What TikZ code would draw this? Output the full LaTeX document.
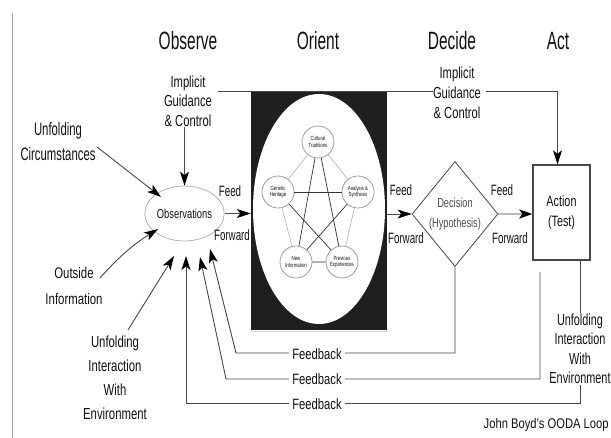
\documentclass[tikz,border=0pt]{standalone}
\usepackage{fontspec}
\usepackage{graphicx}
\setmainfont{Liberation Sans}
\usetikzlibrary{arrows.meta,shapes.geometric}
\def\sxf{0.7}
\newcommand\sx[1]{\scalebox{\sxf}[1]{#1}}
\definecolor{ln}{HTML}{484848}
\definecolor{tx}{HTML}{111111}
\tikzset{
  txt/.style n args={3}{font=\fontsize{#1}{#2}\selectfont\def\sxf{#3}, align=center, inner sep=0.5pt, text=tx},
  hdr/.style={txt={25}{30}{0.62}, anchor=base},
  arr/.style={-{Stealth[length=14pt,width=9pt,inset=3.5pt,black]}},
  conn/.style={draw=ln, line width=0.9pt},
  fbl/.style={txt={15}{18}{0.75}, fill=white, inner xsep=3pt},
  ff/.style={txt={15}{18}{0.65}},
  small/.style={circle, draw=gray!75, line width=0.8pt, fill=white, minimum size=32pt, inner sep=0pt, txt={6}{6.6}{0.72}},
  pent/.style={draw=gray!60, line width=0.6pt},
  star/.style={draw=black!80, line width=0.7pt},
}
\begin{document}
\begin{tikzpicture}[x=1pt,y=-1pt]
\useasboundingbox (0,0) rectangle (611,438);
% left border line
\draw[gray!70, line width=0.8pt] (12,13) -- (12,438);
% headers
\node[hdr] (hobs) at (188,50) {\sx{Observe}};
\node[hdr] (hori) at (318,50) {\sx{Orient}};
\node[hdr] (hdec) at (452,50) {\sx{Decide}};
\node[hdr] (hact) at (558,50) {\sx{Act}};
% orient box
\node[draw=none, fill=black!88, minimum width=136pt, minimum height=239pt, inner sep=0] (ori) at (319,210.5) {};
\fill[white] (319,209) ellipse (66 and 115);
\draw[gray!35, line width=1.2pt] (ori.south west) ++(0,1.5) -- ++(136,0);
% small circles
\node[small] (cul) at (318,142) {\sx{Cultural}\\\sx{Traditions}};
\node[small] (gen) at (278,192) {\sx{Genetic}\\\sx{Heritage}};
\node[small] (ana) at (358,192) {\sx{Analysis \&}\\\sx{Synthesis}};
\node[small] (new) at (296,262) {\sx{New}\\\sx{Information}};
\node[small] (pre) at (342,262) {\sx{Previous}\\\sx{Experiences}};
\draw[pent] (cul) -- (gen);
\draw[pent] (cul) -- (ana);
\draw[pent] (gen) -- (new);
\draw[pent] (ana) -- (pre);
\draw[pent, line width=1.2pt] (new) -- (pre);
\draw[star] (cul) -- (new);
\draw[star] (cul) -- (pre);
\draw[star] (gen) -- (ana);
\draw[star] (gen) -- (pre);
\draw[star] (ana) -- (new);
% observations
\node[ellipse, draw=gray!60, line width=0.8pt, minimum width=63pt, minimum height=55pt, inner sep=0pt, txt={13}{15}{0.72}] (obs) at (184.5,213.5) {\sx{Observations}};
% guidance labels
\node[txt={16}{19.5}{0.70}] (gi1) at (188,101) {\sx{Implicit}\\\sx{Guidance}\\\sx{\& Control}};
\node[txt={16}{20}{0.70}] (gi2) at (457,93) {\sx{Implicit}\\\sx{Guidance}\\\sx{\& Control}};
% decision and action
\node[diamond, draw=ln, line width=0.8pt, minimum width=84pt, minimum height=105pt, inner sep=0pt, txt={13}{20}{0.71}, text=black!70] (dec) at (455,214) {\sx{Decision}\\\sx{(Hypothesis)}};
\node[draw=ln, line width=1.3pt, minimum width=57pt, minimum height=95pt, inner sep=0pt, txt={15}{20}{0.72}] (act) at (561.5,212.5) {\sx{Action}\\\sx{(Test)}};
% left inputs
\node[txt={18}{25}{0.63}] (unc) at (58,142) {\sx{Unfolding}\\\sx{Circumstances}};
\node[txt={15.4}{26}{0.74}] (oin) at (74,286) {\sx{Outside}\\\sx{Information}};
\node[txt={16}{24}{0.71}] (uie) at (115,378) {\sx{Unfolding}\\\sx{Interaction}\\\sx{With}\\\sx{Environment}};
\node[txt={16}{19.5}{0.68}] (env) at (580,349) {\sx{Unfolding}\\\sx{Interaction}\\\sx{With}\\\sx{Environment}};
% guidance lines
\coordinate (g1s) at (218,91);
\coordinate (g1e) at (433,91);
\coordinate (g2s) at (486,91);
\coordinate (g2c) at (557.5,91);
\draw[conn] (g1s) -- (g1e);
\draw[conn] (g2s) -- (g2c);
\draw[conn, arr] (g2c) -- (act.north -| g2c);
\draw[conn, arr] (gi1.south -| obs.north) -- (obs.north);
% input arrows
\coordinate (t1) at (161,197);
\coordinate (t2) at (158,229);
\coordinate (t3) at (174,256);
\draw[conn, arr] (97,147) -- (t1);
\draw[conn, arr] (100,278) to[bend left=8] (t2);
\draw[conn, arr] (128,330) -- (t3);
% feed forward
\draw[conn, arr] (obs.east) -- (ori.west |- obs.east);
\draw[conn, arr] (ori.east |- dec.west) -- (dec.west);
\draw[draw=gray!55, line width=2.8pt, -{Stealth[length=13pt,width=9pt,inset=3pt,black]}] (dec.east) -- (act.west |- dec.east);
\node[ff] (f1a) at (230,191) {\sx{Feed}};
\node[ff] (f1b) at (232,235) {\sx{Forward}};
\node[ff] (f2a) at (401,190) {\sx{Feed}};
\node[ff] (f2b) at (406,238) {\sx{Forward}};
\node[ff] (f3a) at (502,190) {\sx{Feed}};
\node[ff] (f3b) at (510,238) {\sx{Forward}};
% feedback loops
\coordinate (k1) at (210,249);
\coordinate (k2) at (200,257);
\coordinate (k3) at (186,256);
\coordinate (s2) at (540,272);
\draw[conn, arr] (dec.south) -- (dec.south |- 0,353) -- (236,353) -- (k1);
\draw[conn, arr] (s2) -- (540,379) -- (226,379) -- (k2);
\draw[conn] (act.south -| env.north) -- (env.north);
\draw[conn, arr] (env.south) -- (env.south |- 0,403) -- (186,403) -- (k3);
\node[fbl] (fb1) at (317,354) {\sx{Feedback}};
\node[fbl] (fb2) at (317,379) {\sx{Feedback}};
\node[fbl] (fb3) at (317,404) {\sx{Feedback}};
% credit
\node[txt={14}{16}{0.8}, anchor=west] (cred) at (483,425) {\sx{John Boyd's OODA Loop}};
\end{tikzpicture}
\end{document}
